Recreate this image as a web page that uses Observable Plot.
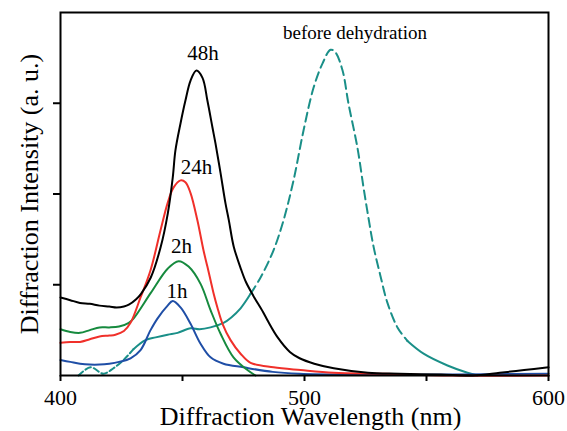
<!DOCTYPE html>
<html>
<head>
<meta charset="utf-8">
<script src="https://cdn.jsdelivr.net/npm/d3@7"></script>
<script src="https://cdn.jsdelivr.net/npm/@observablehq/plot@0.6"></script>
<style>
  html, body { margin: 0; padding: 0; background: #fff; }
  #chart svg { display: block; }
</style>
</head>
<body>
<div id="chart"></div>
<script>
// Wavelength (nm), intensity (a.u., one tick interval = 1)
const h48 = [[400,0.86],[404,0.83],[408,0.80],[412,0.79],[416,0.77],[420,0.76],[423,0.75],[426,0.76],[428,0.78],[431,0.84],[433,0.90],[437,1.08],[441,1.41],[444,1.79],[446,2.18],[447.1,2.48],[449.2,2.78],[451.2,3.03],[453.3,3.25],[455.7,3.36],[458.2,3.28],[460.2,3.03],[462.3,2.73],[463.5,2.56],[465.6,2.23],[467.6,1.90],[469,1.71],[471,1.42],[474,1.17],[476,1.03],[479,0.88],[483,0.70],[485,0.60],[489,0.42],[494,0.26],[498,0.19],[504,0.13],[512,0.08],[526,0.03],[539,0.02],[556,0.01],[569,0.0],[580,0.03],[590,0.06],[600,0.09]];
const h24 = [[400,0.36],[404,0.37],[408,0.37],[412,0.40],[416,0.43],[420,0.44],[422.5,0.45],[426,0.49],[428.7,0.58],[432.8,0.86],[436.9,1.16],[441,1.60],[443.9,1.90],[446.3,2.07],[449.2,2.15],[451.2,2.13],[453.3,2.01],[456.1,1.71],[458.6,1.38],[460.2,1.20],[461.5,1.05],[462.7,0.91],[464.3,0.75],[466.4,0.57],[469.7,0.39],[473.8,0.24],[477.9,0.14],[487.3,0.09],[498.4,0.06],[511.9,0.03],[532.4,0.02],[560,0.0],[600,0.0]];
const h2 = [[400,0.51],[404,0.48],[408,0.47],[412,0.50],[416,0.53],[420,0.53],[424,0.54],[428,0.58],[430,0.63],[437,0.91],[444,1.18],[448.4,1.26],[452.5,1.20],[457.4,1.01],[461.5,0.72],[465.6,0.46],[470.9,0.20],[476.6,0.06],[479.9,0.0]];
const h1 = [[400,0.17],[404,0.15],[408,0.13],[412,0.12],[416,0.12],[420,0.13],[424,0.15],[428.7,0.19],[432.8,0.28],[436.9,0.50],[439.8,0.63],[443.9,0.77],[446,0.82],[449.2,0.75],[453.3,0.57],[457.4,0.35],[461.5,0.20],[466.8,0.13],[475,0.09],[487,0.04],[498,0.02],[520,0.01],[560,0.01],[600,0.02]];
const before = [[407.4,0.0],[412.3,0.09],[417.6,0.02],[421.7,0.08],[425.8,0.17],[429.9,0.29],[434.8,0.39],[439,0.42],[443.9,0.45],[448,0.47],[453.3,0.52],[457,0.51],[461.5,0.53],[466.8,0.58],[470,0.64],[473.8,0.74],[477.9,0.90],[482,1.08],[487.3,1.38],[491.4,1.71],[495.5,2.15],[499.6,2.70],[503.7,3.17],[507.4,3.44],[510.7,3.59],[512.7,3.56],[515.6,3.36],[518,3.00],[521.7,2.51],[524.2,2.07],[526.2,1.74],[528.3,1.42],[531.1,1.10],[534,0.80],[538.1,0.53],[542.2,0.38],[548.8,0.24],[558.6,0.11],[566.8,0.03],[570.9,0.0]];

const labels = ["48h", "24h", "2h", "1h", "before dehydration"];
const labelX = [458.4, 455.7, 449.6, 447.7, 520.7];
const labelY = [3.55, 2.30, 1.42, 0.93, 3.77];
const labelSize = [21, 21, 21, 21, 19];

const xTicks = [400, 450, 500, 550, 600];
const xTickLabels = [400, 500, 600];
const yTicks = [1, 2, 3];
const xTitle = "Diffraction Wavelength (nm)";
const yTitle = "Diffraction Intensity (a. u.)";

const serif = "'Liberation Serif', 'Times New Roman', 'DejaVu Serif', serif";
const lineOpts = {x: d => d[0], y: d => d[1], strokeWidth: 2, curve: "catmull-rom"};

const seg = (a, b) => before.filter(d => d[0] >= a && d[0] <= b);
const labelData = labels.map((t, i) => ({t, x: labelX[i], y: labelY[i], s: labelSize[i]}));

const chart = Plot.plot({
  width: 567,
  height: 431,
  marginLeft: 60,
  marginRight: 19,
  marginTop: 12,
  marginBottom: 56,
  style: {fontFamily: serif, background: "#fff", color: "#000"},
  x: {domain: [400, 600]},
  y: {domain: [0, 4]},
  marks: [
    Plot.line(seg(407, 430), {...lineOpts, stroke: "#1a8f88", strokeDasharray: "6,3"}),
    Plot.line(seg(429.9, 478), {...lineOpts, stroke: "#1a8f88"}),
    Plot.line(seg(477.9, 542.2), {...lineOpts, stroke: "#1a8f88", strokeDasharray: "9,5"}),
    Plot.line(seg(542.2, 571), {...lineOpts, stroke: "#1a8f88"}),
    Plot.line(h1, {...lineOpts, stroke: "#1f4ea6"}),
    Plot.line(h2, {...lineOpts, stroke: "#168a3e"}),
    Plot.line(h24, {...lineOpts, stroke: "#f0302a"}),
    Plot.line(h48, {...lineOpts, stroke: "#000"}),
    ...labelData.map(d => Plot.text([d], {x: "x", y: "y", text: "t", fontSize: d.s, fill: "#000", fontFamily: serif})),
    Plot.axisX({ticks: xTicks, tickSize: 6, tickFormat: () => "", strokeWidth: 2, label: null}),
    Plot.axisX({ticks: xTickLabels, tickSize: 0, tickPadding: 14, fontSize: 22, label: null, fill: "#000"}),
    Plot.axisY({ticks: yTicks, tickSize: 7, tickFormat: () => "", strokeWidth: 2, label: null}),
    Plot.frame({stroke: "#000", strokeWidth: 2}),
    Plot.text([xTitle], {frameAnchor: "bottom", textAnchor: "middle", lineAnchor: "middle", dx: 6, dy: 41, fontSize: 26, fill: "#000", fontFamily: serif}),
    Plot.text([yTitle], {frameAnchor: "left", textAnchor: "middle", lineAnchor: "middle", dx: -31, rotate: -90, fontSize: 26, fill: "#000", fontFamily: serif})
  ]
});
document.getElementById("chart").appendChild(chart);
</script>
</body>
</html>
